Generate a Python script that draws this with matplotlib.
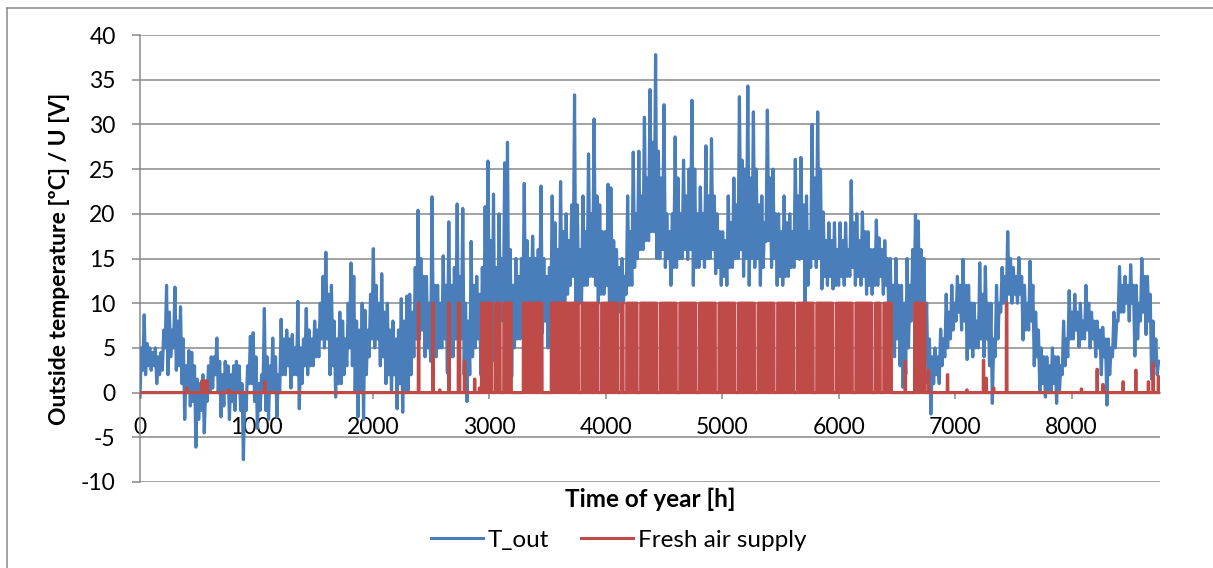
import numpy as np
import matplotlib
matplotlib.use("Agg")
import matplotlib.pyplot as plt
from matplotlib.lines import Line2D

# ---------------- data (read / estimated from the reference picture) ----------------
# Outside temperature: daily minimum and maximum, day 0 .. 364
t_min = [
    -0.5, 2.5, 2, 3, 2.5, 3, 1, 2, 2.5, 5,
    2, 4, 5, 2.5, 3, 1, -3, 0, -1.5, -1,
    -6.1, -3, -2, -4.5, -1, 0, 0.5, 2, 0, -2.7,
    -1.5, 0, -3, -1, -2, 0, -2, -7.5, -2, 1,
    1, -1, -4, -2, 0, -2, -3, 0, 0, -2.7,
    0, 2, 2, 3, 0.5, 2, 2, -1.8, 1, 3,
    2, 3, 3, 4, 4, 6, 5, 6, 2, 3,
    -0.5, 1, 1, 2, 3, 5, 3, 0, -2.7, 0,
    -3, 2, 4, 6, 5, 6, 3, 4, 1, 2,
    0, 2, -1.8, 1, -2.2, 0, 0, 2, 4, 6,
    6, 7, 4, 5, 3.5, 5, 4, 5, 5, 6,
    2.2, 4, 4, 6, 5, 6, 2, -1, 2, 4,
    5, 6, 2, 5, 7, 8, 6, 3.5, 6, 8,
    8, 10, 5, 1.8, 5, 6, 6, 8, 8, 9,
    9, 10, 7, 9, 6.7, 8, 5, 8, 9, 10,
    7, 10, 10, 11, 12, 13, 7.1, 10, 10, 12,
    12, 13, 13, 12, 10, 11, 11, 12, 9.2, 10,
    8, 9, 9, 10, 11, 12, 12, 14, 15, 16,
    16, 17, 17, 18, 18, 15, 15, 16, 14, 15,
    12, 14, 14, 15, 15, 16, 14.9, 16, 12, 14,
    14, 15, 14, 15, 15, 16, 13.3, 14, 12, 13,
    12, 14, 14, 15, 15, 16, 13, 15, 12, 15,
    14, 15, 12, 14, 16.9, 17, 14, 15, 12, 13,
    12, 13, 13, 14, 14, 15, 14.9, 15, 10, 12,
    14, 15, 14, 15, 11.6, 13, 12, 13, 11.6, 12,
    12, 13, 12, 13, 13, 14, 12, 13, 12, 13,
    11, 12, 11, 12, 12, 13, 11, 12, 8, 5.1,
    4, 6, 3, 0.6, 2, 5, 8, 10, 6, 8,
    3, 5, 1, -2.4, 1, 2, 1, 3, 4, 5,
    6, 7, 8, 9, 7, 8, 3.7, 5, 4, 5,
    5, 6, 4, 6, 3, -1.2, 4, 6, 9, 10,
    10, 11, 10, 11, 10, 11, 5.9, 7, 7, 8,
    3, 4, 0, 1, -0.5, 0, 0, 1, -1.2, 0,
    2, 3, 4, 6, 6, 7, 5.1, 6, 6, 7,
    5, 6, 4, 5, 2, 4, -1.4, 2, 4, 5,
    8, 9, 9, 10, 8, 10, 4.1, 6, 8, 9,
    6.5, 8, 1.5, 3, 2,
]
t_max = [
    5, 8.7, 5.5, 5, 4.5, 5, 4, 4.5, 7, 12,
    9, 7, 11.8, 8, 9.6, 6, 3, 4.7, 4.5, 3,
    1.5, 1, 2, 0.5, 3, 4, 4, 6.1, 3.5, 2,
    3.5, 3, 2, 3, 3.5, 3, 1, 0, 3, 6.3,
    6.7, 4, 1, 2, 9.4, 4, 3, 6.1, 4, 2,
    8.2, 6, 7, 6, 6.5, 5, 10.2, 5, 6, 9.4,
    7, 6, 8, 7, 10, 13, 15.7, 11, 12, 8,
    6, 9, 8, 6, 10, 14.5, 13, 8, 7, 10,
    9.2, 7, 11, 16.1, 12, 10, 13.3, 9, 10, 7,
    8, 6, 7, 10.5, 8, 10.8, 11, 9, 14, 20.4,
    15, 13, 13, 10, 21.9, 12, 12, 10, 15.3, 12,
    19.1, 12, 14, 21.1, 13, 20.6, 10, 8, 16.9, 12,
    13, 11, 14, 20.8, 25.9, 17, 22.2, 14, 20, 15,
    25.7, 28, 16, 12, 15, 13, 15, 23.4, 17, 15,
    17.5, 15, 16, 23.1, 15, 13, 14, 22, 19, 16,
    23.6, 18, 20, 17, 21, 33.3, 21, 16, 22, 18,
    26.7, 20, 30.6, 22, 21, 18, 18, 23.3, 22.9, 17,
    16, 14, 15, 13, 22, 18, 26.9, 20, 27, 22,
    30.8, 24, 33.9, 28, 37.8, 27, 24, 32.2, 20, 18,
    20, 28.6, 24, 20, 26, 22, 25, 32.7, 25, 20,
    23, 20, 27.6, 22, 28.4, 22, 20, 18, 18, 17,
    22, 19, 24, 21, 33.1, 26, 25, 34.3, 24, 31.4,
    25, 21, 22, 19, 31.6, 24, 25, 20, 20, 18,
    22, 19, 20, 18, 26.1, 22, 26.3, 21, 22, 18,
    30, 24, 31.4, 25, 20.2, 17, 19, 17, 19, 16,
    19, 17, 19, 16, 23.7, 19, 20, 17, 20.2, 18,
    18, 16, 16, 19.3, 17.3, 16, 17, 15, 15, 12,
    15, 12, 12, 10, 15, 12, 16, 19.9, 19.2, 16,
    15, 10, 6, 4, 5, 4, 7.1, 6, 11, 9,
    12, 10, 13, 12, 14.9, 12, 12, 10, 10, 8,
    14.5, 11, 14.1, 10, 10, 6, 12, 10, 14, 13,
    18, 15, 14, 13, 15.1, 13, 12, 10, 14.7, 12,
    9, 7, 5, 4, 4, 3, 5, 4, 4, 3,
    8, 6, 11.4, 9, 11, 9, 10, 8, 12, 10,
    9, 8, 8, 7, 7.3, 6, 6, 5, 9, 8,
    14.1, 12, 13, 12, 14.3, 12, 12, 10, 15, 13,
    13, 11, 8, 6, 3.5,
]

# Fresh air supply: day ranges (day of year) with daily switching to 10 V
supply_on_days = [
    (122, 125), (127, 128), (130, 132), (137, 143), (147, 156),
    (158, 163), (165, 170), (172, 172), (174, 177), (179, 184),
    (186, 191), (193, 198), (200, 205), (207, 212), (214, 219),
    (221, 226), (228, 233), (235, 240), (242, 247), (249, 254),
    (256, 261), (263, 264), (266, 268), (277, 280),
]
supply_level = 10
# single pulses: (hour, voltage)
supply_pulses = [
    (400, 0.5), (530, 1.3), (545, 1.3), (560, 1.3), (575, 1.3), (760, 0.3),
    (1070, 1.2), (2391, 10), (2515, 10), (2573, 0.3), (2652, 10), (2734, 10),
    (2742, 10), (2786, 3.5), (2873, 1.5), (2914, 0.5), (6571, 3.5),
    (6771, 2.5), (6934, 2), (7100, 0.3), (7243, 3.6), (7266, 1.6),
    (7330, 0.5), (7441, 10), (8084, 0.4), (8219, 2.6), (8269, 0.9),
    (8442, 1.2), (8551, 2.5), (8659, 1.2), (8700, 3.3), (8745, 1.8),
]
hours_in_year = 8760
on_hours = (5, 21)

x_ticks = list(range(0, 9000, 1000))
y_ticks = list(range(-10, 45, 5))

# ---------------- build series ----------------
n_days = len(t_min)
day_start = 24 * np.arange(n_days)
t_x = np.empty(2 * n_days)
t_y = np.empty(2 * n_days)
t_x[0::2] = day_start
t_x[1::2] = np.minimum(day_start + 12, hours_in_year)
t_y[0::2] = t_min
t_y[1::2] = t_max

hrs = np.arange(hours_in_year + 1)
supply = np.zeros(hours_in_year + 1)
for a, b in supply_on_days:
    for d in range(a, b + 1):
        supply[d * 24 + on_hours[0]: d * 24 + on_hours[1]] = supply_level
for h, v in supply_pulses:
    dur = 5 if v >= supply_level else 4
    supply[h: h + dur] = np.maximum(supply[h: h + dur], v)

# ---------------- plot ----------------
BLUE = "#4A7EBB"
RED = "#BE4B48"
GRID = "#898989"
plt.rcParams["font.family"] = ["Lato", "DejaVu Sans"]
plt.rcParams["axes.unicode_minus"] = False
plt.rcParams["path.simplify"] = False

fig = plt.figure(figsize=(12.13, 5.68), dpi=100)
ax = fig.add_axes([140 / 1213, 1 - 482 / 568, 1020 / 1213, 447 / 568])

ax.plot(t_x, t_y, color=BLUE, lw=2.3, zorder=3)
ax.plot(hrs, supply, color=RED, lw=2.3, zorder=4)

ax.set_xlim(0, hours_in_year)
ax.set_ylim(-10, 40)
ax.set_xticks(x_ticks)
ax.set_yticks(y_ticks)
ax.grid(axis="y", color=GRID, lw=1.1, zorder=0)
ax.set_axisbelow(True)

for s in ["top", "right"]:
    ax.spines[s].set_visible(False)
ax.spines["bottom"].set_position(("data", 0))
ax.spines["bottom"].set_color(GRID)
ax.spines["bottom"].set_linewidth(1.1)
ax.spines["bottom"].set_zorder(1)
ax.spines["left"].set_color(GRID)
ax.spines["left"].set_linewidth(1.1)

ax.tick_params(axis="y", length=5.5, width=1.1, color=GRID, pad=12, labelsize=16.5)
ax.tick_params(axis="x", length=4.5, width=1.1, color=GRID, pad=13, labelsize=16.5)

ax.set_xlabel("Time of year [h]", fontsize=17.5, fontweight="bold")
ax.xaxis.set_label_coords(0.5, -0.012)
ax.set_ylabel("Outside temperature [ºC] / U [V]", fontsize=16.5, fontweight="bold")
ax.yaxis.set_label_coords(-0.069, 0.5)

handles = [Line2D([0], [0], color=BLUE, lw=2.2), Line2D([0], [0], color=RED, lw=2.2)]
fig.legend(handles, ["T_out", "Fresh air supply"], loc="center",
           bbox_to_anchor=(0.51, 0.049), ncol=2, frameon=False, fontsize=17.5,
           handlelength=2.15, handletextpad=0.2, columnspacing=1.3)

# outer chart border (only left/top visible in the crop)
fig.add_artist(Line2D([7 / 1213, 7 / 1213], [0, 1 - 8 / 568], transform=fig.transFigure,
                      color=GRID, lw=1.1))
fig.add_artist(Line2D([7 / 1213, 1], [1 - 8 / 568, 1 - 8 / 568], transform=fig.transFigure,
                      color=GRID, lw=1.1))

fig.savefig("out.png", dpi=100)
